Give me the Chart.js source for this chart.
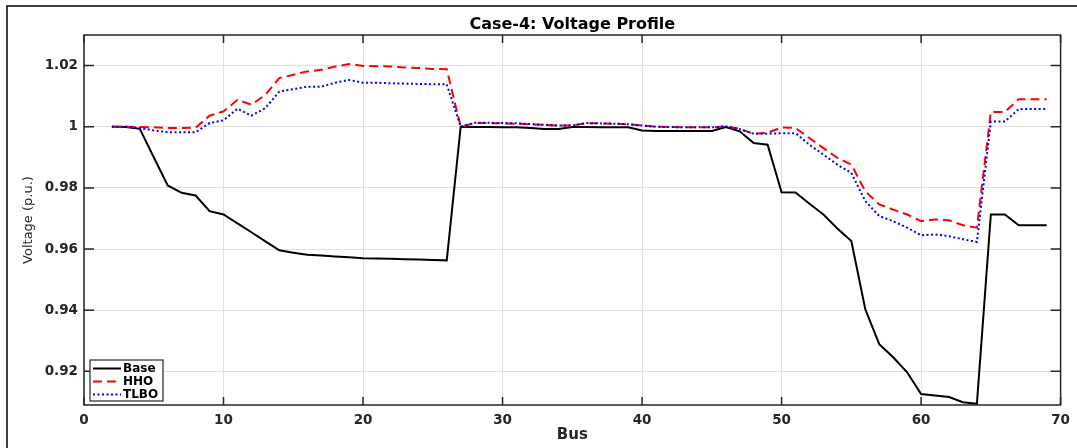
<!DOCTYPE html>
<html>
<head>
<meta charset="utf-8">
<script src="https://cdn.jsdelivr.net/npm/chart.js@4/dist/chart.umd.min.js"></script>
<style>
  html, body { margin: 0; padding: 0; background: #fff; }
  #wrap { width: 1077px; height: 448px; }
</style>
</head>
<body>
<div id="wrap"><canvas id="myChart" width="1077" height="448"></canvas></div>
<script>
// bus numbers on the x axis
const buses = [2, 3, 4, 5, 6, 7, 8, 9, 10, 11, 12, 13, 14, 15, 16, 17, 18, 19, 20,
  21, 22, 23, 24, 25, 26, 27, 28, 29, 30, 31, 32, 33, 34, 35, 36, 37, 38, 39, 40,
  41, 42, 43, 44, 45, 46, 47, 48, 49, 50, 51, 52, 53, 54, 55, 56, 57, 58, 59, 60,
  61, 62, 63, 64, 65, 66, 67, 68, 69];

// voltage (p.u.) per bus
const baseV = [1.0000, 0.9999, 0.9993, 0.9900, 0.9808, 0.9784, 0.9775, 0.9724, 0.9713,
  0.9684, 0.9655, 0.9625, 0.9596, 0.9588, 0.9581, 0.9579, 0.9576, 0.9573, 0.9570,
  0.9569, 0.9568, 0.9567, 0.9566, 0.9564, 0.9563, 1.0000, 0.9999, 0.9999, 0.9998,
  0.9998, 0.9996, 0.9993, 0.9993, 0.9999, 0.9999, 0.9998, 0.9998, 0.9998, 0.9988,
  0.9986, 0.9986, 0.9986, 0.9986, 0.9986, 0.9999, 0.9985, 0.9947, 0.9941, 0.9786,
  0.9785, 0.9748, 0.9713, 0.9667, 0.9626, 0.9403, 0.9289, 0.9246, 0.9197, 0.9126,
  0.9121, 0.9116, 0.9099, 0.9094, 0.9713, 0.9713, 0.9678, 0.9678, 0.9678];

const hhoV = [1.0000, 1.0000, 0.9999, 0.9998, 0.9996, 0.9996, 0.9997, 1.0036, 1.0050,
  1.0088, 1.0072, 1.0104, 1.0159, 1.0170, 1.0181, 1.0186, 1.0197, 1.0205, 1.0199,
  1.0198, 1.0197, 1.0194, 1.0192, 1.0189, 1.0188, 1.0000, 1.0012, 1.0012, 1.0011,
  1.0010, 1.0008, 1.0006, 1.0004, 1.0004, 1.0012, 1.0011, 1.0010, 1.0008, 1.0004,
  1.0000, 0.9999, 0.9998, 0.9998, 0.9998, 1.0001, 0.9993, 0.9977, 0.9980, 0.9998,
  0.9996, 0.9963, 0.9930, 0.9898, 0.9876, 0.9789, 0.9746, 0.9729, 0.9713, 0.9691,
  0.9697, 0.9694, 0.9678, 0.9670, 1.0048, 1.0048, 1.0090, 1.0090, 1.0090];

const tlboV = [1.0000, 1.0000, 0.9996, 0.9988, 0.9982, 0.9982, 0.9982, 1.0012, 1.0021,
  1.0059, 1.0036, 1.0061, 1.0115, 1.0123, 1.0131, 1.0131, 1.0144, 1.0153, 1.0144,
  1.0144, 1.0142, 1.0141, 1.0140, 1.0139, 1.0139, 1.0000, 1.0013, 1.0013, 1.0012,
  1.0011, 1.0009, 1.0006, 1.0004, 1.0004, 1.0012, 1.0011, 1.0010, 1.0008, 1.0004,
  1.0000, 0.9999, 0.9998, 0.9998, 0.9998, 1.0001, 0.9992, 0.9977, 0.9977, 0.9979,
  0.9979, 0.9941, 0.9909, 0.9876, 0.9849, 0.9757, 0.9708, 0.9691, 0.9670, 0.9645,
  0.9648, 0.9642, 0.9632, 0.9623, 1.0017, 1.0017, 1.0058, 1.0058, 1.0058];

const xTicks = [0, 10, 20, 30, 40, 50, 60, 70];
const yTicks = [0.92, 0.94, 0.96, 0.98, 1.0, 1.02];

const FONT = "'DejaVu Sans', sans-serif";
const AXIS = "#262626";

const pts = (vals) => buses.map((b, i) => ({ x: b, y: vals[i] }));

// matlab style box, inward ticks, legend and the figure edge
const framePlugin = {
  id: "frame",
  beforeDraw(chart) {
    const ctx = chart.ctx;
    ctx.save();
    ctx.fillStyle = "#fff";
    ctx.fillRect(0, 0, chart.width, chart.height);
    ctx.strokeStyle = "#000";
    ctx.lineWidth = 1.5;
    ctx.beginPath();
    ctx.moveTo(7, chart.height);
    ctx.lineTo(7, 6);
    ctx.lineTo(chart.width, 6);
    ctx.stroke();
    ctx.restore();
  },
  afterDatasetsDraw(chart) {
    const { ctx, chartArea: a, scales: { x, y } } = chart;
    ctx.save();
    ctx.strokeStyle = AXIS;
    ctx.lineWidth = 1.5;
    ctx.strokeRect(a.left, a.top, a.right - a.left, a.bottom - a.top);
    ctx.beginPath();
    xTicks.forEach((v) => {
      const px = x.getPixelForValue(v);
      ctx.moveTo(px, a.bottom);
      ctx.lineTo(px, a.bottom - 8);
      ctx.moveTo(px, a.top);
      ctx.lineTo(px, a.top + 8);
    });
    yTicks.forEach((v) => {
      const py = y.getPixelForValue(v);
      ctx.moveTo(a.left, py);
      ctx.lineTo(a.left + 10, py);
      ctx.moveTo(a.right, py);
      ctx.lineTo(a.right - 10, py);
    });
    ctx.stroke();

    // legend box, bottom left inside the axes
    const lx = a.left + 6, ly = a.bottom - 45, lw = 73, lh = 41;
    ctx.fillStyle = "#fff";
    ctx.fillRect(lx, ly, lw, lh);
    ctx.lineWidth = 1.2;
    ctx.strokeRect(lx, ly, lw, lh);
    ctx.font = "bold 12px " + FONT;
    ctx.textBaseline = "middle";
    const legendOrder = [0, 1, 2];
    legendOrder.forEach((di, row) => {
      const ds = chart.data.datasets[di];
      const ry = ly + 8.5 + row * 13;
      ctx.beginPath();
      ctx.setLineDash(ds.borderDash || []);
      ctx.strokeStyle = ds.borderColor;
      ctx.lineWidth = ds.borderWidth;
      ctx.moveTo(lx + 3, ry);
      ctx.lineTo(lx + 31, ry);
      ctx.stroke();
      ctx.setLineDash([]);
      ctx.fillStyle = "#000";
      ctx.fillText(ds.label, lx + 33, ry + 0.5);
    });
    ctx.restore();
  },
};

const ctx = document.getElementById("myChart").getContext("2d");
const myChart = new Chart(ctx, {
  type: "line",
  data: {
    datasets: [
      {
        label: "Base",
        data: pts(baseV),
        borderColor: "#000000",
        borderWidth: 2,
        order: 3,
      },
      {
        label: "HHO",
        data: pts(hhoV),
        borderColor: "#ff0000",
        borderWidth: 2,
        borderDash: [9, 5],
        order: 2,
      },
      {
        label: "TLBO",
        data: pts(tlboV),
        borderColor: "#0000ff",
        borderWidth: 2,
        borderDash: [2, 2.5],
        order: 1,
      },
    ],
  },
  options: {
    responsive: false,
    animation: false,
    devicePixelRatio: 1,
    layout: { padding: { left: 0, right: 16, top: 0, bottom: 0 } },
    elements: { point: { radius: 0 }, line: { tension: 0, fill: false } },
    plugins: {
      legend: { display: false },
      tooltip: { enabled: false },
      title: {
        display: true,
        text: "Case-4: Voltage Profile",
        color: "#000",
        fullSize: false,
        font: { family: FONT, size: 16, weight: "bold" },
        padding: { top: 15.4, bottom: 0.4 },
      },
    },
    scales: {
      x: {
        type: "linear",
        min: 0,
        max: 70,
        afterBuildTicks: (s) => { s.ticks = xTicks.map((v) => ({ value: v })); },
        afterFit: (s) => { s.height = 43; },
        grid: { color: "#e1e1e1", lineWidth: 1, drawTicks: false },
        border: { display: false },
        ticks: {
          padding: 7,
          color: AXIS,
          maxRotation: 0,
          font: { family: FONT, size: 13.5, weight: "bold" },
        },
        title: {
          display: true,
          text: "Bus",
          color: AXIS,
          font: { family: FONT, size: 15, weight: "bold" },
          padding: { top: 0, bottom: 4 },
        },
      },
      y: {
        type: "linear",
        min: 0.909,
        max: 1.03,
        afterBuildTicks: (s) => { s.ticks = yTicks.map((v) => ({ value: v })); },
        afterFit: (s) => { s.width = 84; },
        grid: { color: "#e1e1e1", lineWidth: 1, drawTicks: false },
        border: { display: false },
        ticks: {
          padding: 6,
          color: AXIS,
          font: { family: FONT, size: 13.5, weight: "bold" },
          callback: (v) => String(+Number(v).toFixed(2)),
        },
        title: {
          display: true,
          text: "Voltage (p.u.)",
          color: AXIS,
          font: { family: FONT, size: 13 },
          padding: { top: 20.5, bottom: 0 },
        },
      },
    },
  },
  plugins: [framePlugin],
});
</script>
</body>
</html>
